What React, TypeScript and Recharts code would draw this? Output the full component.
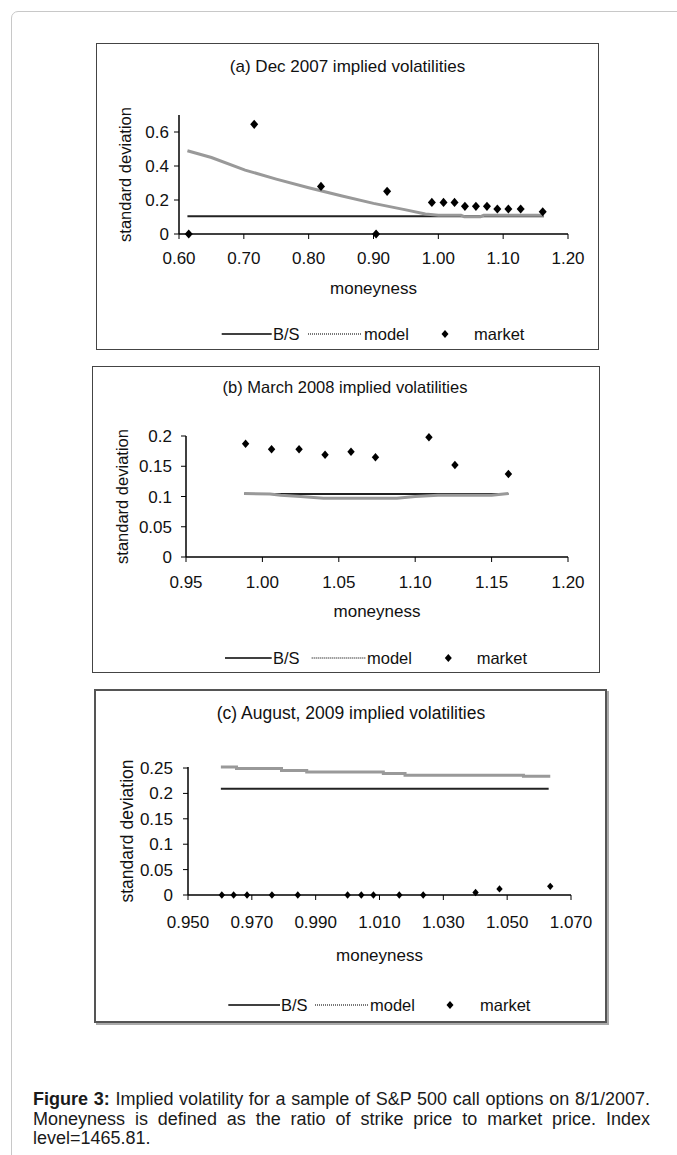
import React from "react";
import { ComposedChart, Line, Scatter, XAxis, YAxis, Label } from "recharts";

type Pt = { x: number; y: number };

// (a) Dec 2007
const decBS: Pt[] = [
  { x: 0.613, y: 0.105 },
  { x: 1.163, y: 0.105 },
];
const decModel: Pt[] = [
  { x: 0.613, y: 0.49 },
  { x: 0.65, y: 0.45 },
  { x: 0.702, y: 0.376 },
  { x: 0.75, y: 0.323 },
  { x: 0.8, y: 0.272 },
  { x: 0.85, y: 0.225 },
  { x: 0.9, y: 0.18 },
  { x: 0.95, y: 0.142 },
  { x: 0.98, y: 0.118 },
  { x: 1.0, y: 0.11 },
  { x: 1.035, y: 0.11 },
  { x: 1.04, y: 0.102 },
  { x: 1.065, y: 0.102 },
  { x: 1.07, y: 0.11 },
  { x: 1.163, y: 0.11 },
];
const decMarket: Pt[] = [
  { x: 0.615, y: 0 },
  { x: 0.716, y: 0.645 },
  { x: 0.819, y: 0.28 },
  { x: 0.904, y: 0 },
  { x: 0.921, y: 0.251 },
  { x: 0.99, y: 0.186 },
  { x: 1.008, y: 0.186 },
  { x: 1.025, y: 0.186 },
  { x: 1.041, y: 0.163 },
  { x: 1.058, y: 0.163 },
  { x: 1.075, y: 0.163 },
  { x: 1.091, y: 0.147 },
  { x: 1.108, y: 0.147 },
  { x: 1.127, y: 0.147 },
  { x: 1.161, y: 0.131 },
];
const decXTicks = [0.6, 0.7, 0.8, 0.9, 1.0, 1.1, 1.2];
const decYTicks = [0, 0.2, 0.4, 0.6];

// (b) March 2008
const marBS: Pt[] = [
  { x: 0.988, y: 0.104 },
  { x: 1.161, y: 0.104 },
];
const marModel: Pt[] = [
  { x: 0.988, y: 0.105 },
  { x: 1.005, y: 0.104 },
  { x: 1.012, y: 0.102 },
  { x: 1.025, y: 0.1 },
  { x: 1.04, y: 0.097 },
  { x: 1.088, y: 0.097 },
  { x: 1.1, y: 0.1 },
  { x: 1.115, y: 0.102 },
  { x: 1.15, y: 0.102 },
  { x: 1.161, y: 0.105 },
];
const marMarket: Pt[] = [
  { x: 0.989, y: 0.187 },
  { x: 1.006, y: 0.178 },
  { x: 1.024, y: 0.178 },
  { x: 1.041, y: 0.169 },
  { x: 1.058, y: 0.174 },
  { x: 1.074, y: 0.165 },
  { x: 1.109, y: 0.198 },
  { x: 1.126, y: 0.152 },
  { x: 1.161, y: 0.137 },
];
const marXTicks = [0.95, 1.0, 1.05, 1.1, 1.15, 1.2];
const marYTicks = [0, 0.05, 0.1, 0.15, 0.2];

// (c) August 2009
const augBS: Pt[] = [
  { x: 0.9603, y: 0.209 },
  { x: 1.063, y: 0.209 },
];
const augModel: Pt[] = [
  { x: 0.9603, y: 0.252 },
  { x: 0.9652, y: 0.249 },
  { x: 0.9793, y: 0.245 },
  { x: 0.9872, y: 0.242 },
  { x: 1.0112, y: 0.239 },
  { x: 1.018, y: 0.236 },
  { x: 1.0551, y: 0.234 },
  { x: 1.0635, y: 0.234 },
];
const augMarket: Pt[] = [
  { x: 0.9606, y: 0 },
  { x: 0.9643, y: 0 },
  { x: 0.9685, y: 0 },
  { x: 0.9763, y: 0 },
  { x: 0.9844, y: 0 },
  { x: 1.0, y: 0 },
  { x: 1.0043, y: 0 },
  { x: 1.0081, y: 0 },
  { x: 1.0162, y: 0 },
  { x: 1.0237, y: 0 },
  { x: 1.0401, y: 0.005 },
  { x: 1.0476, y: 0.012 },
  { x: 1.0635, y: 0.017 },
];
const augXTicks = [0.95, 0.97, 0.99, 1.01, 1.03, 1.05, 1.07];
const augYTicks = [0, 0.05, 0.1, 0.15, 0.2, 0.25];

const FONT = "'Liberation Sans', Arial, Helvetica, sans-serif";
const INK = "#111";

const diamond = (half: number) => (props: any) => {
  const { cx, cy } = props;
  if (cx == null || cy == null) return <g />;
  const h = half * 1.15;
  return (
    <path
      d={`M${cx},${cy - h}L${cx + half},${cy}L${cx},${cy + h}L${cx - half},${cy}Z`}
      fill="#000"
    />
  );
};

type PanelProps = {
  left: number;
  top: number;
  width: number;
  height: number;
  heavy?: boolean;
  title: string;
  titleX: number;
  titleY: number;
  titleSize: number;
  bs: Pt[];
  model: Pt[];
  modelStep?: boolean;
  market: Pt[];
  xDomain: [number, number];
  xTicks: number[];
  xDigits: number;
  yDomain: [number, number];
  yTicks: number[];
  margin: { top: number; right: number; bottom: number };
  yAxisWidth: number;
  yTickGap: number;
  xTickGap: number;
  yTitleX: number;
  yTitleSize: number;
  xTitleDy: number;
  dot: number;
  legendY: number;
  legendX: number[]; // bsStart, bsEnd, bsText, modelStart, modelEnd, modelText, dot, marketText
};

function Panel(p: PanelProps) {
  const tickStyle = { fontSize: 17, fill: INK, fontFamily: FONT };
  const lx = p.legendX;
  return (
    <>
      <div
        style={{
          position: "absolute",
          left: p.left,
          top: p.top,
          width: p.width,
          height: p.height,
          boxSizing: "border-box",
          border: p.heavy ? "2px solid #555" : "1.5px solid #444",
          boxShadow: p.heavy ? "2px 2px 0 #aaa" : "none",
          background: "#fff",
        }}
      />
      <div style={{ position: "absolute", left: p.left, top: p.top }}>
        <ComposedChart
          width={p.width}
          height={p.height}
          margin={{ top: p.margin.top, right: p.margin.right, bottom: p.margin.bottom, left: 0 }}
        >
          <XAxis
            type="number"
            dataKey="x"
            domain={p.xDomain}
            ticks={p.xTicks}
            interval={0}
            tickFormatter={(v: number) => v.toFixed(p.xDigits)}
            axisLine={{ stroke: "#000", strokeWidth: 1.5 }}
            tickLine={{ stroke: "#000" }}
            tickSize={5}
            tickMargin={p.xTickGap}
            height={30}
            tick={tickStyle}
          >
            <Label
              content={(props: any) => {
                const vb = props.viewBox || {};
                return (
                  <text
                    x={vb.x + vb.width / 2}
                    y={vb.y + p.xTitleDy}
                    textAnchor="middle"
                    dominantBaseline="central"
                    fontSize={17}
                    fontFamily={FONT}
                    fill={INK}
                  >
                    moneyness
                  </text>
                );
              }}
            />
          </XAxis>
          <YAxis
            type="number"
            domain={p.yDomain}
            ticks={p.yTicks}
            interval={0}
            tickFormatter={(v: number) => String(v)}
            axisLine={{ stroke: "#000", strokeWidth: 1.5 }}
            tickLine={{ stroke: "#000" }}
            tickSize={5}
            tickMargin={p.yTickGap}
            width={p.yAxisWidth}
            tick={tickStyle}
          >
            <Label
              content={(props: any) => {
                const vb = props.viewBox || {};
                const cx = vb.x + p.yTitleX;
                const cy = vb.y + vb.height / 2;
                return (
                  <text
                    x={cx}
                    y={cy}
                    transform={`rotate(-90 ${cx} ${cy})`}
                    textAnchor="middle"
                    dominantBaseline="central"
                    fontSize={p.yTitleSize}
                    fontFamily={FONT}
                    fill={INK}
                  >
                    standard deviation
                  </text>
                );
              }}
            />
          </YAxis>
          <Line
            data={p.bs}
            dataKey="y"
            type="linear"
            stroke="#222"
            strokeWidth={2}
            dot={false}
            isAnimationActive={false}
          />
          <Line
            data={p.model}
            dataKey="y"
            type={p.modelStep ? "stepAfter" : "linear"}
            stroke="#999"
            strokeWidth={3}
            dot={false}
            isAnimationActive={false}
          />
          <Scatter data={p.market} dataKey="y" shape={diamond(p.dot)} isAnimationActive={false} />
        </ComposedChart>
      </div>
      <div
        style={{
          position: "absolute",
          left: p.titleX - 200,
          top: p.titleY - 11,
          width: 400,
          height: 22,
          lineHeight: "22px",
          textAlign: "center",
          fontFamily: FONT,
          fontSize: p.titleSize,
          color: INK,
        }}
      >
        {p.title}
      </div>
      <svg
        style={{ position: "absolute", left: 0, top: p.legendY - 12 }}
        width={677}
        height={24}
        fontFamily={FONT}
        fontSize={16.5}
      >
        <line x1={lx[0]} x2={lx[1]} y1={12} y2={12} stroke="#000" strokeWidth={1.5} />
        <text x={lx[2]} y={12} dominantBaseline="central" fill={INK}>
          B/S
        </text>
        <line x1={lx[3]} x2={lx[4]} y1={12} y2={12} stroke="#777" strokeWidth={2} strokeDasharray="1 1" />
        <text x={lx[5]} y={12} dominantBaseline="central" fill={INK}>
          model
        </text>
        <path d={`M${lx[6]},8L${lx[6] + 3.5},12L${lx[6]},16L${lx[6] - 3.5},12Z`} fill="#000" />
        <text x={lx[7]} y={12} dominantBaseline="central" fill={INK}>
          market
        </text>
      </svg>
    </>
  );
}

export default function App() {
  return (
    <div style={{ position: "absolute", left: 0, top: 0, width: 677, height: 1155, background: "#fff", overflow: "hidden" }}>
      <div
        style={{
          position: "absolute",
          left: 11,
          top: 11,
          width: 720,
          height: 1200,
          border: "1px solid #c8c8c8",
          borderRadius: 7,
        }}
      />
      <Panel
        left={96}
        top={43}
        width={503}
        height={307}
        title="(a) Dec 2007 implied volatilities"
        titleX={347.5}
        titleY={67}
        titleSize={17}
        bs={decBS}
        model={decModel}
        market={decMarket}
        xDomain={[0.6, 1.2]}
        xTicks={decXTicks}
        xDigits={2}
        yDomain={[0, 0.7]}
        yTicks={decYTicks}
        margin={{ top: 72, right: 31, bottom: 86 }}
        yAxisWidth={83}
        yTickGap={5}
        xTickGap={13}
        yTitleX={29}
        yTitleSize={16.5}
        xTitleDy={54}
        dot={4}
        legendY={334}
        legendX={[221.7, 271.7, 273, 308, 361.7, 364, 445, 474]}
      />
      <Panel
        left={92}
        top={366}
        width={508}
        height={307}
        title="(b) March 2008 implied volatilities"
        titleX={345}
        titleY={387}
        titleSize={16.5}
        bs={marBS}
        model={marModel}
        market={marMarket}
        xDomain={[0.95, 1.2]}
        xTicks={marXTicks}
        xDigits={2}
        yDomain={[0, 0.2]}
        yTicks={marYTicks}
        margin={{ top: 70, right: 32, bottom: 86 }}
        yAxisWidth={94}
        yTickGap={9}
        xTickGap={14}
        yTitleX={30}
        yTitleSize={16.5}
        xTitleDy={54}
        dot={3.7}
        legendY={658}
        legendX={[225, 271.7, 273, 311.7, 366, 367, 448.3, 476.7]}
      />
      <Panel
        left={94}
        top={689}
        width={513}
        height={334}
        heavy
        title="(c) August, 2009 implied volatilities"
        titleX={351}
        titleY={713}
        titleSize={17.5}
        bs={augBS}
        model={augModel}
        modelStep
        market={augMarket}
        xDomain={[0.95, 1.07]}
        xTicks={augXTicks}
        xDigits={3}
        yDomain={[0, 0.25]}
        yTicks={augYTicks}
        margin={{ top: 78, right: 36, bottom: 98 }}
        yAxisWidth={94}
        yTickGap={10}
        xTickGap={16}
        yTitleX={32.7}
        yTitleSize={17.5}
        xTitleDy={60}
        dot={3.2}
        legendY={1005}
        legendX={[228.3, 280, 281, 315, 368, 370, 450, 480]}
      />
      <div
        style={{
          position: "absolute",
          left: 33,
          top: 1090,
          width: 617,
          fontFamily: FONT,
          fontSize: 18,
          lineHeight: "19.5px",
          color: "#1a1a1a",
        }}
      >
        <div style={{ textAlign: "justify", textAlignLast: "justify", whiteSpace: "nowrap" }}>
          <b>Figure 3:</b> Implied volatility for a sample of S&amp;P 500 call options on 8/1/2007.
        </div>
        <div style={{ textAlign: "justify", textAlignLast: "justify" }}>
          Moneyness is defined as the ratio of strike price to market price. Index
        </div>
        <div>level=1465.81.</div>
      </div>
    </div>
  );
}
